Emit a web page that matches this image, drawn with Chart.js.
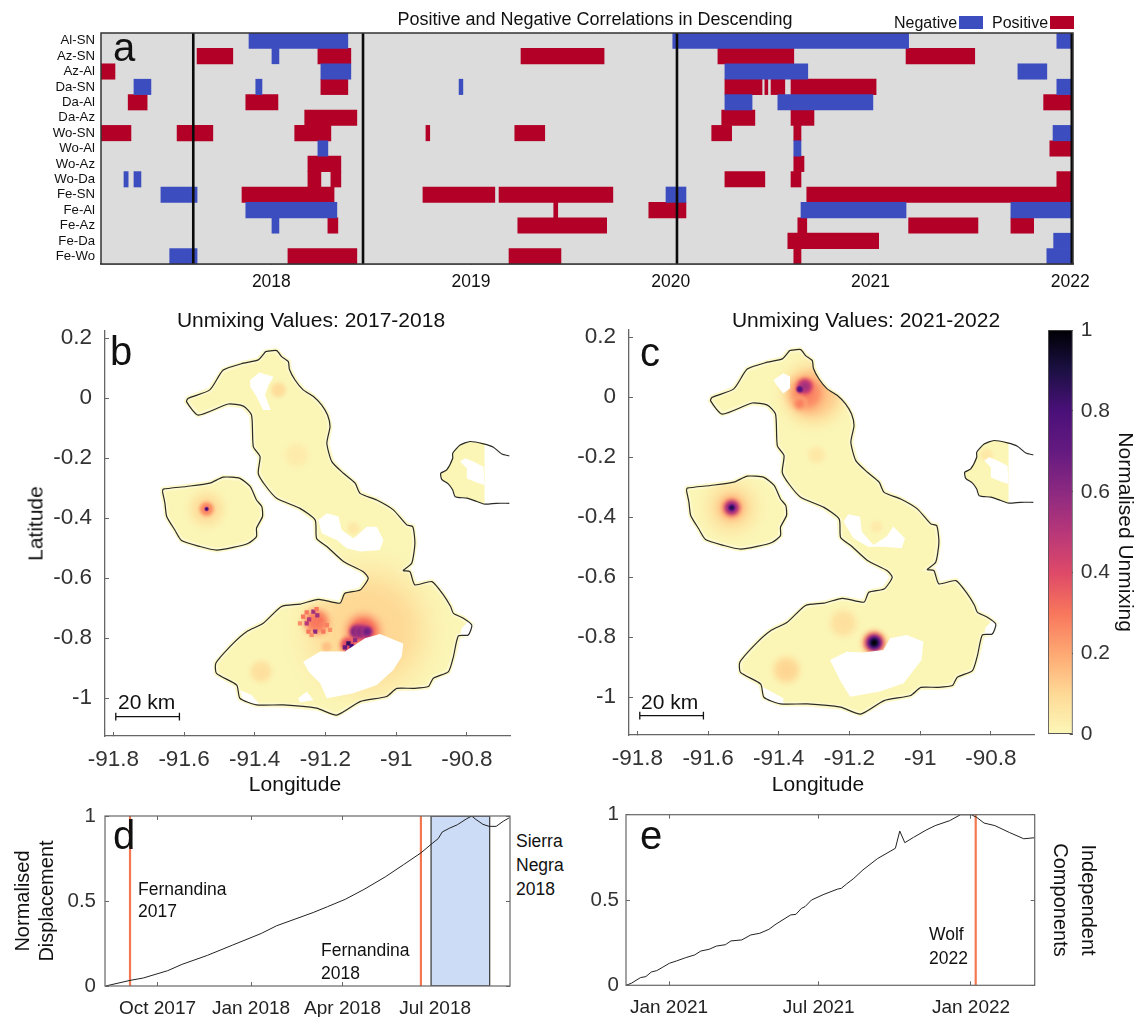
<!DOCTYPE html>
<html>
<head>
<meta charset="utf-8">
<title>Positive and Negative Correlations</title>
<script src="https://cdn.jsdelivr.net/npm/chart.js@4/dist/chart.umd.js"></script>
<style>
  html, body { margin: 0; background: #fff; }
  body { position: relative; width: 1137px; height: 1017px; overflow: hidden; font-family: "Liberation Sans", sans-serif; }
  canvas { position: absolute; }
  .t { position: absolute; line-height: 1; white-space: nowrap; color: #111; }
  .key { position: absolute; }
</style>
</head>
<body>
<script>
/* ===== PANEL A DATA: [pair, start year, end year] ===== */
const pairNames = ["Al-SN", "Az-SN", "Az-Al", "Da-SN", "Da-Al", "Da-Az", "Wo-SN", "Wo-Al", "Wo-Az", "Wo-Da", "Fe-SN", "Fe-Al", "Fe-Az", "Fe-Da", "Fe-Wo"];
const yearTicks = [2018, 2019, 2020, 2021, 2022];
const eventYears = [2017.609, 2018.459, 2020.031, 2022.008];

const negativeBars = [
  ["Al-SN", 2017.888, 2018.383], ["Al-SN", 2020.010, 2021.191], ["Al-SN", 2021.933, 2022.014],
  ["Az-SN", 2018.003, 2018.038],
  ["Az-Al", 2018.248, 2018.398], ["Az-Al", 2020.271, 2020.686], ["Az-Al", 2021.738, 2021.883],
  ["Da-SN", 2017.312, 2017.397], ["Da-SN", 2017.922, 2017.953], ["Da-SN", 2018.940, 2018.959], ["Da-SN", 2021.933, 2022.014],
  ["Da-Al", 2020.271, 2020.407], ["Da-Al", 2020.536, 2021.012],
  ["Wo-SN", 2021.914, 2022.014],
  ["Wo-Al", 2018.233, 2018.283], ["Wo-Al", 2020.616, 2020.652],
  ["Wo-Da", 2017.262, 2017.283], ["Wo-Da", 2017.312, 2017.347],
  ["Fe-SN", 2017.447, 2017.628], ["Fe-SN", 2019.976, 2020.076],
  ["Fe-Al", 2017.872, 2018.328], ["Fe-Al", 2020.652, 2021.178], ["Fe-Al", 2021.703, 2022.014],
  ["Fe-Az", 2018.003, 2018.038],
  ["Fe-Da", 2021.917, 2022.014],
  ["Fe-Wo", 2017.491, 2017.628], ["Fe-Wo", 2021.883, 2022.014]
];

const positiveBars = [
  ["Az-SN", 2017.628, 2017.807], ["Az-SN", 2018.233, 2018.398], ["Az-SN", 2019.250, 2019.666], ["Az-SN", 2020.236, 2020.616], ["Az-SN", 2021.178, 2021.522],
  ["Az-Al", 2017.147, 2017.217],
  ["Da-SN", 2018.248, 2018.383], ["Da-SN", 2020.271, 2020.457], ["Da-SN", 2020.471, 2020.486], ["Da-SN", 2020.502, 2020.571], ["Da-SN", 2020.602, 2021.028],
  ["Da-Al", 2017.283, 2017.378], ["Da-Al", 2017.872, 2018.033], ["Da-Al", 2021.867, 2022.014],
  ["Da-Az", 2018.167, 2018.428], ["Da-Az", 2020.255, 2020.421], ["Da-Az", 2020.602, 2020.717],
  ["Wo-SN", 2017.147, 2017.297], ["Wo-SN", 2017.528, 2017.707], ["Wo-SN", 2018.117, 2018.298], ["Wo-SN", 2018.774, 2018.793], ["Wo-SN", 2019.219, 2019.369], ["Wo-SN", 2020.205, 2020.305], ["Wo-SN", 2020.616, 2020.652],
  ["Wo-Al", 2021.898, 2022.014],
  ["Wo-Az", 2018.183, 2018.348], ["Wo-Az", 2020.616, 2020.667],
  ["Wo-Da", 2018.183, 2018.248], ["Wo-Da", 2018.298, 2018.348], ["Wo-Da", 2020.271, 2020.471], ["Wo-Da", 2020.602, 2020.652], ["Wo-Da", 2021.933, 2022.014],
  ["Fe-SN", 2017.853, 2018.314], ["Fe-SN", 2018.759, 2019.119], ["Fe-SN", 2019.140, 2019.710], ["Fe-SN", 2020.681, 2022.014],
  ["Fe-Al", 2019.414, 2019.434], ["Fe-Al", 2019.890, 2020.076],
  ["Fe-Az", 2018.283, 2018.333], ["Fe-Az", 2019.234, 2019.679], ["Fe-Az", 2020.636, 2020.681], ["Fe-Az", 2021.191, 2021.538], ["Fe-Az", 2021.703, 2021.817],
  ["Fe-Da", 2020.586, 2021.041],
  ["Fe-Wo", 2018.083, 2018.428], ["Fe-Wo", 2019.190, 2019.450], ["Fe-Wo", 2020.616, 2020.652]
];

/* ===== MAP DATA ===== */
const lonTicks = [-91.8, -91.6, -91.4, -91.2, -91, -90.8];
const latTicks = [0.2, 0, -0.2, -0.4, -0.6, -0.8, -1];
const unmixTicks = [0, 0.2, 0.4, 0.6, 0.8, 1];

const isabelaLon = [-91.369, -91.338, -91.324, -91.305, -91.302, -91.286, -91.263, -91.234, -91.211, -91.194, -91.187, -91.196, -91.182, -91.149, -91.116, -91.102, -91.055, -91.008, -90.970, -90.953, -90.947, -90.956, -90.980, -90.961, -90.947, -90.899, -90.866, -90.846, -90.838, -90.810, -90.786, -90.796, -90.824, -90.838, -90.852, -90.895, -90.909, -90.951, -90.998, -91.027, -91.102, -91.168, -91.225, -91.319, -91.395, -91.442, -91.451, -91.508, -91.510, -91.461, -91.423, -91.376, -91.324, -91.272, -91.220, -91.159, -91.145, -91.102, -91.079, -91.093, -91.149, -91.196, -91.225, -91.229, -91.272, -91.338, -91.371, -91.390, -91.385, -91.404, -91.409, -91.432, -91.475, -91.560, -91.593, -91.588, -91.527, -91.489, -91.432, -91.390, -91.369];
const isabelaLat = [0.156, 0.159, 0.139, 0.122, 0.097, 0.061, 0.028, 0.006, -0.022, -0.056, -0.094, -0.150, -0.211, -0.250, -0.283, -0.317, -0.339, -0.372, -0.422, -0.428, -0.483, -0.550, -0.574, -0.578, -0.622, -0.611, -0.656, -0.694, -0.717, -0.733, -0.756, -0.789, -0.792, -0.861, -0.911, -0.933, -0.961, -0.967, -0.967, -0.994, -1.011, -1.056, -1.033, -1.022, -1.022, -1.000, -0.956, -0.917, -0.883, -0.817, -0.778, -0.750, -0.694, -0.686, -0.670, -0.683, -0.650, -0.639, -0.600, -0.578, -0.544, -0.494, -0.467, -0.406, -0.367, -0.333, -0.289, -0.250, -0.194, -0.161, -0.056, -0.026, -0.019, -0.056, -0.011, 0, 0.028, 0.094, 0.117, 0.128, 0.156];

const fernandinaLon = [-91.661, -91.659, -91.593, -91.527, -91.489, -91.442, -91.413, -91.395, -91.380, -91.378, -91.395, -91.395, -91.418, -91.461, -91.508, -91.555, -91.607, -91.626, -91.649, -91.654, -91.661];
const fernandinaLat = [-0.311, -0.303, -0.294, -0.283, -0.263, -0.267, -0.294, -0.339, -0.361, -0.394, -0.433, -0.461, -0.483, -0.497, -0.506, -0.494, -0.474, -0.439, -0.394, -0.350, -0.311];

const eastCoastLon = [-90.680, -90.701, -90.725, -90.753, -90.791, -90.819, -90.840, -90.840, -90.857, -90.874, -90.871, -90.852, -90.840, -90.833, -90.800, -90.772, -90.749, -90.716, -90.680];
const eastCoastLat = [-0.192, -0.186, -0.163, -0.152, -0.144, -0.156, -0.183, -0.200, -0.239, -0.250, -0.270, -0.286, -0.306, -0.328, -0.333, -0.344, -0.353, -0.350, -0.350];
const eastLandLon = [-90.750, -90.791, -90.819, -90.840, -90.840, -90.857, -90.874, -90.871, -90.852, -90.840, -90.833, -90.800, -90.772, -90.750, -90.750];
const eastLandLat = [-0.149, -0.144, -0.156, -0.183, -0.200, -0.239, -0.250, -0.270, -0.286, -0.306, -0.328, -0.333, -0.344, -0.353, -0.149];
const eastGapLon = [-90.819, -90.805, -90.782, -90.753, -90.750, -90.772, -90.800, -90.800];
const eastGapLat = [-0.211, -0.200, -0.211, -0.228, -0.289, -0.281, -0.267, -0.233];

// no-data holes in the unmixing rasters
const gaps2018 = [
  [[-91.413, -91.387, -91.347, -91.361, -91.371, -91.355, -91.376, -91.395, -91.413], [0.061, 0.086, 0.072, 0.044, 0.011, -0.039, -0.039, 0.006, 0.039]],
  [[-91.220, -91.196, -91.163, -91.154, -91.121, -91.083, -91.055, -91.036, -91.046, -91.102, -91.140, -91.168, -91.211], [-0.406, -0.383, -0.394, -0.439, -0.467, -0.428, -0.428, -0.472, -0.506, -0.511, -0.500, -0.472, -0.450]],
  [[-91.263, -91.215, -91.145, -91.088, -91.046, -90.980, -90.984, -91.008, -91.055, -91.121, -91.196, -91.215, -91.248], [-0.878, -0.844, -0.844, -0.800, -0.786, -0.817, -0.861, -0.906, -0.956, -0.983, -1.000, -0.950, -0.911]],
  [[-91.442, -91.409, -91.385, -91.432], [-0.972, -0.989, -1.022, -1.008]],
  [[-90.819, -90.815, -90.796, -90.780, -90.791], [-0.792, -0.767, -0.744, -0.756, -0.797]],
  [[-91.277, -91.253, -91.234, -91.272], [-1.000, -0.978, -1.006, -1.014]]
];
const gaps2022 = [
  [[-91.415, -91.387, -91.368, -91.368, -91.387, -91.406], [0.058, 0.080, 0.069, 0.030, 0.013, 0.041]],
  [[-91.217, -91.203, -91.170, -91.165, -91.132, -91.095, -91.076, -91.043, -91.052, -91.104, -91.147, -91.189], [-0.414, -0.390, -0.398, -0.448, -0.492, -0.464, -0.431, -0.470, -0.503, -0.498, -0.498, -0.470]],
  [[-91.255, -91.208, -91.161, -91.104, -91.085, -91.038, -90.991, -90.996, -91.047, -91.114, -91.198, -91.227], [-0.876, -0.848, -0.851, -0.842, -0.803, -0.792, -0.814, -0.876, -0.953, -0.981, -0.998, -0.942]],
  [[-91.448, -91.387, -91.387, -91.434], [-0.964, -1.003, -1.026, -1.009]],
  [[-90.819, -90.815, -90.796, -90.780, -90.791], [-0.792, -0.767, -0.744, -0.756, -0.797]]
];

// unmixing hot spots: centre, peak value, spread in degrees (drawn low to high)
const blobLon2018 = [-91.083, -91.333, -91.281, -91.121, -91.382, -91.536, -91.536, -91.225, -91.196, -91.093, -91.135, -91.112, -91.097, -91.083, -91.138, -91.536];
const blobLat2018 = [-0.772, 0.028, -0.189, -0.433, -0.911, -0.369, -0.369, -0.745, -0.828, -0.778, -0.822, -0.778, -0.778, -0.778, -0.867, -0.369];
const blobPeak2018 = [0.11, 0.09, 0.04, 0.05, 0.08, 0.08, 0.28, 0.3, 0.15, 0.36, 0.42, 0.7, 0.68, 0.68, 0.32, 0.85];
const blobSpread2018 = [0.255, 0.033, 0.052, 0.028, 0.047, 0.075, 0.032, 0.055, 0.026, 0.071, 0.036, 0.03, 0.03, 0.026, 0.011, 0.009];

const blobLon2022 = [-91.302, -91.321, -91.340, -91.326, -91.340, -91.533, -91.533, -91.533, -91.533, -91.217, -91.378, -91.293, -91.123, -90.812, -91.130, -91.130, -91.130];
const blobLat2022 = [0.013, 0.013, -0.020, 0.036, 0.027, -0.368, -0.368, -0.368, -0.368, -0.753, -0.909, -0.192, -0.431, -0.192, -0.818, -0.818, -0.818];
const blobPeak2022 = [0.14, 0.28, 0.28, 0.55, 0.78, 0.08, 0.2, 0.6, 0.9, 0.08, 0.11, 0.05, 0.04, 0.05, 0.3, 0.72, 1];
const blobSpread2022 = [0.125, 0.075, 0.028, 0.035, 0.016, 0.113, 0.06, 0.034, 0.016, 0.057, 0.057, 0.038, 0.028, 0.028, 0.05, 0.037, 0.026];

// speckled raster cells around the 2018 calderas
const cellLon2018 = [-91.234, -91.223, -91.246, -91.253, -91.229, -91.263, -91.215, -91.196, -91.187, -91.206, -91.248, -91.272, -91.225, -91.253, -91.239, -91.135, -91.126, -91.145, -91.138, -91.116];
const cellLat2018 = [-0.711, -0.724, -0.737, -0.750, -0.778, -0.728, -0.739, -0.756, -0.772, -0.778, -0.778, -0.750, -0.703, -0.714, -0.789, -0.817, -0.826, -0.830, -0.848, -0.806];
const cellValue2018 = [0.55, 0.55, 0.5, 0.5, 0.6, 0.3, 0.3, 0.28, 0.25, 0.3, 0.3, 0.25, 0.3, 0.3, 0.25, 0.85, 0.8, 0.7, 0.8, 0.6];

// scale bar ends in degrees, 20 km
const scaleBarLon = [-91.793, -91.613];
const scaleBarLat = -1.061;

// colour bar readings
const cmapLevels = [0, 0.1, 0.2, 0.3, 0.4, 0.5, 0.6, 0.7, 0.8, 0.9, 1];
const cmapColors = [[252, 247, 184], [254, 217, 150], [254, 168, 115], [248, 118, 92], [222, 73, 104], [183, 55, 121], [140, 41, 129], [100, 26, 128], [74, 16, 121], [28, 16, 68], [0, 0, 4]];

/* ===== PANEL D / E DATA: days from the first tick date ===== */
const dTickDays = [0, 92, 182, 273];
const dTickLabels = ["Oct 2017", "Jan 2018", "Apr 2018", "Jul 2018"];
const dDays = [-51, -27, -14, 10, 24, 49, 74, 102, 117, 153, 167, 185, 203, 224, 242, 259, 270, 276, 280, 287, 295, 304, 309, 313, 320, 326, 333, 340, 346];
const dValues = [0, 0.033, 0.047, 0.09, 0.127, 0.18, 0.241, 0.309, 0.354, 0.432, 0.466, 0.511, 0.568, 0.642, 0.714, 0.783, 0.838, 0.867, 0.906, 0.928, 0.949, 0.984, 1, 0.98, 0.951, 0.939, 0.939, 0.969, 0.99];
const dEvents = [-27, 259];
const dBandDays = [269, 326.6];

const eTickDays = [0, 181, 365];
const eTickLabels = ["Jan 2021", "Jul 2021", "Jan 2022"];
const eDays = [-52, -45.5, -34.5, -28, -21.4, -14.9, -8.3, 0.4, 9.2, 20.1, 31, 38.5, 48.5, 57.3, 68.2, 74.8, 87.9, 98.8, 109.7, 120.7, 129.4, 146.9, 153.4, 160, 164.4, 172.2, 186.2, 203.7, 208.1, 214.6, 223.4, 234.3, 251.8, 273.6, 278.9, 285, 295.5, 310.8, 321.7, 339.2, 352.3, 365.4, 372, 380.8, 393.9, 411.3, 428.8, 441.9];
const eValues = [0, 0.012, 0.045, 0.051, 0.078, 0.086, 0.104, 0.129, 0.143, 0.162, 0.178, 0.201, 0.211, 0.23, 0.238, 0.26, 0.266, 0.295, 0.305, 0.328, 0.359, 0.412, 0.416, 0.451, 0.461, 0.5, 0.531, 0.564, 0.568, 0.594, 0.627, 0.676, 0.742, 0.803, 0.904, 0.836, 0.867, 0.91, 0.936, 0.965, 1, 1, 0.984, 0.951, 0.936, 0.896, 0.859, 0.865];
const eEvents = [370.7];

const unitTicks = [0, 0.5, 1];

/* ===== HELPERS ===== */
const FONT = '"Liberation Sans", sans-serif';

// fixed axis sizes, and no extra room for labels that stick out
function noPadding(s) {
  s.paddingTop = 0;
  s.paddingBottom = 0;
  s.paddingLeft = 0;
  s.paddingRight = 0;
}
const fixW = w => s => { s.width = w; noPadding(s); };
const fixH = h => s => { s.height = h; noPadding(s); };
const setTicks = values => s => { s.ticks = values.map(v => ({ value: v })); };
const zip = (xs, ys) => xs.map((x, i) => ({ x, y: ys[i] }));

function addCanvas(left, top, width, height) {
  const c = document.createElement("canvas");
  c.width = width;
  c.height = height;
  c.style.left = left + "px";
  c.style.top = top + "px";
  c.style.width = width + "px";
  c.style.height = height + "px";
  document.body.appendChild(c);
  return c;
}

function addText(text, x, y, size, align) {
  const d = document.createElement("div");
  d.className = "t";
  d.textContent = text;
  d.style.left = x + "px";
  d.style.top = (y - size / 2) + "px";
  d.style.fontSize = size + "px";
  if (align === "center") d.style.transform = "translateX(-50%)";
  if (align === "rotated") d.style.transform = "translateX(-50%) rotate(-90deg)";
  document.body.appendChild(d);
}

function addKey(color, x, y, w, h) {
  const d = document.createElement("div");
  d.className = "key";
  d.style.cssText = `left:${x}px;top:${y}px;width:${w}px;height:${h}px;background:${color}`;
  document.body.appendChild(d);
}

function cmap(v, alpha) {
  let i = 0;
  while (i < cmapLevels.length - 2 && v > cmapLevels[i + 1]) i++;
  const f = Math.min(1, (v - cmapLevels[i]) / (cmapLevels[i + 1] - cmapLevels[i]));
  const c = cmapColors[i].map((a, k) => Math.round(a + (cmapColors[i + 1][k] - a) * f));
  return `rgba(${c[0]},${c[1]},${c[2]},${alpha === undefined ? 1 : alpha})`;
}

// grey plot background and box round the plot
const plotFrame = {
  id: "plotFrame",
  beforeDatasetsDraw(chart, args, opts) {
    const a = chart.chartArea;
    if (opts.background) {
      chart.ctx.fillStyle = opts.background;
      chart.ctx.fillRect(a.left, a.top, a.width, a.height);
    }
  },
  afterDatasetsDraw(chart, args, opts) {
    const a = chart.chartArea;
    if (opts.color) {
      chart.ctx.strokeStyle = opts.color;
      chart.ctx.lineWidth = opts.width || 1;
      chart.ctx.strokeRect(a.left, a.top, a.width, a.height);
    }
  }
};

// keeps the hot spots inside the land polygons
const landClip = {
  id: "landClip",
  beforeDatasetDraw(chart, args) {
    if (!chart.data.datasets[args.index].clipToLand) return;
    const { x, y } = chart.scales;
    const ctx = chart.ctx;
    ctx.save();
    ctx.beginPath();
    [[isabelaLon, isabelaLat], [fernandinaLon, fernandinaLat], [eastLandLon, eastLandLat]].forEach(([lon, lat]) => {
      lon.forEach((v, i) => {
        const px = x.getPixelForValue(v), py = y.getPixelForValue(lat[i]);
        if (i === 0) ctx.moveTo(px, py); else ctx.lineTo(px, py);
      });
      ctx.closePath();
    });
    ctx.clip();
  },
  afterDatasetDraw(chart, args) {
    if (chart.data.datasets[args.index].clipToLand) chart.ctx.restore();
  }
};

const baseOptions = {
  responsive: false,
  animation: false,
  events: [],
  layout: { autoPadding: false }
};
const noPlugins = { legend: { display: false }, tooltip: { enabled: false }, title: { display: false } };

/* ===== PANEL A ===== */
function barData(list) {
  return list.map(b => ({ y: b[0], x: [b[1], b[2]] }));
}

new Chart(addCanvas(40, 25, 1060, 265), {
  type: "bar",
  data: {
    labels: pairNames,
    datasets: [
      ...eventYears.map(year => ({
        type: "scatter",
        indexAxis: "x",
        xAxisID: "x",
        yAxisID: "yLine",
        showLine: true,
        data: [{ x: year, y: 0 }, { x: year, y: 1 }],
        borderColor: "#0a0a0a",
        borderWidth: 2.6,
        pointRadius: 0,
        order: 0
      })),
      { label: "Negative", data: barData(negativeBars), backgroundColor: "#3c4dc0", grouped: false, barPercentage: 1, categoryPercentage: 1, order: 1 },
      { label: "Positive", data: barData(positiveBars), backgroundColor: "#b30027", grouped: false, barPercentage: 1, categoryPercentage: 1, order: 1 }
    ]
  },
  options: {
    ...baseOptions,
    indexAxis: "y",
    layout: { autoPadding: false, padding: { top: 8, right: 27 } },
    plugins: { ...noPlugins, plotFrame: { background: "#dcdcdc", color: "#333", width: 1.5 } },
    scales: {
      x: {
        type: "linear",
        min: 2017.147,
        max: 2022.014,
        afterBuildTicks: setTicks(yearTicks),
        afterFit: fixH(26),
        border: { color: "#333", width: 1.5 },
        grid: { drawOnChartArea: false, tickLength: -3, color: "#333" },
        ticks: { autoSkip: false, maxRotation: 0, padding: 11, color: "#111", font: { family: FONT, size: 17.5 }, callback: v => String(v) }
      },
      y: {
        type: "category",
        afterFit: fixW(61),
        border: { display: false },
        grid: { display: false, drawTicks: false },
        ticks: { autoSkip: false, padding: 6, color: "#111", font: { family: FONT, size: 13.2 } }
      },
      yLine: { type: "linear", axis: "y", display: false, offset: false, min: 0, max: 1 }
    }
  },
  plugins: [plotFrame]
});

/* ===== MAP PANELS B, C ===== */
function polygon(lon, lat, fillColor, edgeColor, edgeWidth) {
  return {
    data: zip(lon, lat),
    showLine: true,
    fill: "shape",
    backgroundColor: fillColor,
    borderColor: edgeColor,
    borderWidth: edgeWidth,
    pointRadius: 0
  };
}

function coast(lon, lat) {
  return { data: zip(lon, lat), showLine: true, fill: false, borderColor: "#2b2b26", borderWidth: 1.2, pointRadius: 0, tension: 0.2 };
}

function blobLayer(lon, lat, peak, spread) {
  return {
    clipToLand: true,
    data: zip(lon, lat),
    showLine: false,
    pointBorderWidth: 0,
    pointRadius: ctx => {
      const i = ctx.dataIndex;
      if (i === undefined) return 0;
      const sx = ctx.chart.scales.x;
      const r = sx.getPixelForValue(lon[i] + spread[i]) - sx.getPixelForValue(lon[i]);
      return Number.isFinite(r) ? r : 0;
    },
    pointBackgroundColor: ctx => {
      const i = ctx.dataIndex;
      if (i === undefined) return "rgba(0,0,0,0)";
      const sx = ctx.chart.scales.x, sy = ctx.chart.scales.y;
      const px = sx.getPixelForValue(lon[i]), py = sy.getPixelForValue(lat[i]);
      const r = sx.getPixelForValue(lon[i] + spread[i]) - px;
      // the scales have no size yet on the first pass
      if (!Number.isFinite(px + py + r)) return "rgba(0,0,0,0)";
      const g = ctx.chart.ctx.createRadialGradient(px, py, 0, px, py, Math.max(r, 1));
      for (let k = 0; k <= 10; k++) {
        const t = k / 10;
        const f = (1 - t * t) * (1 - t * t);
        // fades to see-through, not to pale yellow, so no light ring over a halo
        g.addColorStop(t, cmap(peak[i] * (0.6 + 0.4 * f), Math.min(1, f * 1.6)));
      }
      return g;
    }
  };
}

function mapChart(left, top, cfg) {
  const W = 495, H = 473;
  const base = "#fbf6b6", fringe = "#fdf9cd";
  const capLat = 0.013;
  const layers = [
    polygon(isabelaLon, isabelaLat, base, fringe, 5),
    polygon(fernandinaLon, fernandinaLat, base, fringe, 5),
    polygon(eastLandLon, eastLandLat, base, base, 0),
    blobLayer(cfg.blobLon, cfg.blobLat, cfg.blobPeak, cfg.blobSpread),
    ...(cfg.cellLon ? [{
      clipToLand: true,
      data: zip(cfg.cellLon, cfg.cellLat),
      showLine: false,
      pointStyle: "rect",
      pointRadius: 3,
      pointBorderWidth: 0,
      pointBackgroundColor: ctx => (ctx.dataIndex === undefined ? "rgba(0,0,0,0)" : cmap(cfg.cellValue[ctx.dataIndex]))
    }] : []),
    ...cfg.gaps.map(g => polygon(g[0], g[1], "#fff", "#fff", 0)),
    polygon(eastGapLon, eastGapLat, "#fff", "#fff", 0),
    coast(isabelaLon, isabelaLat),
    coast(fernandinaLon, fernandinaLat),
    coast(eastCoastLon, eastCoastLat),
    {
      data: [
        { x: scaleBarLon[0], y: scaleBarLat + capLat }, { x: scaleBarLon[0], y: scaleBarLat - capLat }, { x: scaleBarLon[0], y: scaleBarLat },
        { x: scaleBarLon[1], y: scaleBarLat }, { x: scaleBarLon[1], y: scaleBarLat + capLat }, { x: scaleBarLon[1], y: scaleBarLat - capLat }
      ],
      showLine: true,
      fill: false,
      borderColor: "#111",
      borderWidth: 1.3,
      pointRadius: 0
    }
  ];
  // the later entries go on top, chart.js draws high order first
  layers.forEach((d, i) => { d.order = layers.length - i; });

  new Chart(addCanvas(left, top, W, H), {
    type: "scatter",
    data: { datasets: layers },
    options: {
      ...baseOptions,
      layout: { autoPadding: false, padding: { top: 6, right: 5 } },
      plugins: noPlugins,
      scales: {
        x: {
          type: "linear",
          min: -91.8235,
          max: -90.678,
          afterBuildTicks: setTicks(lonTicks),
          afterFit: fixH(H - 411),
          border: { color: "#666", width: 1.3 },
          grid: { drawOnChartArea: false, tickLength: -4, color: "#666" },
          ticks: { autoSkip: false, maxRotation: 0, padding: 14, color: "#333", font: { family: FONT, size: 22.5 }, callback: v => String(v) }
        },
        y: {
          type: "linear",
          min: -1.1257,
          max: 0.2243,
          afterBuildTicks: setTicks(latTicks),
          afterFit: fixW(85),
          border: { color: "#666", width: 1.3 },
          grid: { drawOnChartArea: false, tickLength: -4, color: "#666" },
          ticks: { autoSkip: false, padding: 17, color: "#333", font: { family: FONT, size: 22.5 }, callback: v => String(v) }
        }
      }
    },
    plugins: [landClip]
  });
}

mapChart(20, 325, { blobLon: blobLon2018, blobLat: blobLat2018, blobPeak: blobPeak2018, blobSpread: blobSpread2018, cellLon: cellLon2018, cellLat: cellLat2018, cellValue: cellValue2018, gaps: gaps2018 });
mapChart(543.5, 324, { blobLon: blobLon2022, blobLat: blobLat2022, blobPeak: blobPeak2022, blobSpread: blobSpread2022, gaps: gaps2022 });

/* ===== COLOUR BAR ===== */
new Chart(addCanvas(1040, 322, 97, 425), {
  type: "bar",
  data: {
    labels: ["unmixing"],
    datasets: [{
      data: [[0, 1]],
      barPercentage: 1,
      categoryPercentage: 1,
      borderWidth: 1.2,
      borderColor: "#555",
      borderSkipped: false,
      backgroundColor: ctx => {
        const y = ctx.chart.scales.y;
        const p0 = y.getPixelForValue(0), p1 = y.getPixelForValue(1);
        if (!Number.isFinite(p0 + p1)) return "#fff";
        const g = ctx.chart.ctx.createLinearGradient(0, p0, 0, p1);
        cmapLevels.forEach(v => g.addColorStop(v, cmap(v)));
        return g;
      }
    }]
  },
  options: {
    ...baseOptions,
    layout: { autoPadding: false, padding: { top: 8, left: 8 } },
    plugins: noPlugins,
    scales: {
      x: { afterFit: fixH(12.7), border: { display: false }, grid: { display: false }, ticks: { display: false } },
      y: {
        position: "right",
        min: 0,
        max: 1,
        afterBuildTicks: setTicks(unmixTicks),
        afterFit: fixW(64.3),
        title: { display: true, text: "Normalised Unmixing", color: "#111", padding: 0, font: { family: FONT, size: 21 } },
        border: { display: false },
        grid: { drawOnChartArea: false, tickLength: -3, color: "#555" },
        ticks: { autoSkip: false, padding: 11, color: "#333", font: { family: FONT, size: 21 }, callback: v => String(v) }
      }
    }
  }
});

/* ===== PANELS D, E ===== */
function vLine(day) {
  return { data: [{ x: day, y: 0 }, { x: day, y: 1 }], showLine: true, borderColor: "#f4784f", borderWidth: 2.2, pointRadius: 0 };
}

function timeChart(box, cfg) {
  const layers = [
    ...(cfg.band ? [{
      data: [{ x: cfg.band[0], y: 0 }, { x: cfg.band[0], y: 1 }, { x: cfg.band[1], y: 1 }, { x: cfg.band[1], y: 0 }, { x: cfg.band[0], y: 0 }],
      showLine: true,
      fill: "shape",
      backgroundColor: "#ccdcf6",
      borderColor: "#444",
      borderWidth: 1.3,
      pointRadius: 0
    }] : []),
    ...cfg.events.map(vLine),
    { data: zip(cfg.days, cfg.values), showLine: true, borderColor: "#222", borderWidth: 1, pointRadius: 0 }
  ];
  layers.forEach((d, i) => { d.order = layers.length - i; });

  const markTick = { drawOnChartArea: false, tickLength: -4, color: "#666" };
  new Chart(addCanvas(box.left, box.top, box.width, box.height), {
    type: "scatter",
    data: { datasets: layers },
    options: {
      ...baseOptions,
      layout: { autoPadding: false, padding: { top: box.plotTop, right: box.padRight } },
      plugins: { ...noPlugins, plotFrame: { color: "#666", width: 1.2 } },
      scales: {
        x: {
          type: "linear",
          min: cfg.min,
          max: cfg.max,
          afterBuildTicks: setTicks(cfg.tickDays),
          afterFit: fixH(box.xHeight),
          border: { display: false },
          grid: markTick,
          ticks: { autoSkip: false, maxRotation: 0, padding: 15, color: "#222", font: { family: FONT, size: 19 }, callback: (v, i) => cfg.tickLabels[i] }
        },
        xTop: {
          type: "linear",
          axis: "x",
          position: "top",
          min: cfg.min,
          max: cfg.max,
          afterBuildTicks: setTicks(cfg.tickDays),
          afterFit: fixH(0),
          border: { display: false },
          grid: markTick,
          ticks: { display: false }
        },
        y: {
          type: "linear",
          min: 0,
          max: 1,
          afterBuildTicks: setTicks(unitTicks),
          afterFit: fixW(box.yWidth),
          title: cfg.leftTitle ? { display: true, text: cfg.leftTitle, color: "#111", font: { family: FONT, size: 20, lineHeight: 1.17 } } : { display: false },
          border: { display: false },
          grid: markTick,
          ticks: { autoSkip: false, padding: cfg.yPad, color: "#333", font: { family: FONT, size: 20.5 }, callback: v => String(v) }
        },
        yRight: {
          type: "linear",
          axis: "y",
          position: "right",
          min: 0,
          max: 1,
          afterBuildTicks: setTicks(unitTicks),
          afterFit: fixW(box.rightWidth),
          title: cfg.rightTitle ? { display: true, text: cfg.rightTitle, color: "#111", font: { family: FONT, size: 20, lineHeight: 1.4 } } : { display: false },
          border: { display: false },
          grid: markTick,
          ticks: { display: false }
        }
      }
    },
    plugins: [plotFrame]
  });
}

timeChart(
  { left: 8, top: 805, width: 504, height: 212, plotTop: 11, padRight: 2, xHeight: 31, yWidth: 97, rightWidth: 0 },
  { min: -51.6, max: 346.6, tickDays: dTickDays, tickLabels: dTickLabels, days: dDays, values: dValues, events: dEvents, band: dBandDays, yPad: 13, leftTitle: ["Normalised", "Displacement"] }
);
timeChart(
  { left: 590, top: 805, width: 516, height: 212, plotTop: 9.7, padRight: 0, xHeight: 31.7, yWidth: 36, rightWidth: 71.3 },
  { min: -52, max: 442, tickDays: eTickDays, tickLabels: eTickLabels, days: eDays, values: eValues, events: eEvents, yPad: 11, rightTitle: ["Independent", "Components"] }
);

/* ===== TEXT ===== */
addText("Positive and Negative Correlations in Descending", 595, 19, 18, "center");
addText("Negative", 894, 23, 16);
addKey("#3c4dc0", 959, 16, 24, 13);
addText("Positive", 992, 23, 16);
addKey("#b30027", 1050, 16, 24, 13);

addText("Unmixing Values: 2017-2018", 311, 319, 21, "center");
addText("Unmixing Values: 2021-2022", 866, 319, 21, "center");

addText("Longitude", 295, 783, 21, "center");
addText("Longitude", 818, 783, 21, "center");
addText("Latitude", 35, 523, 21, "rotated");

addText("a", 113, 47, 40);
addText("b", 110, 351, 40);
addText("c", 640, 352, 40);
addText("d", 113, 835, 40);
addText("e", 640, 835, 40);

addText("20 km", 118, 701, 21);
addText("20 km", 641, 701, 21);

addText("Fernandina", 138, 890, 17.5);
addText("2017", 138, 912, 17.5);
addText("Fernandina", 321, 951, 17.5);
addText("2018", 321, 974, 17.5);
addText("Sierra", 516, 842, 17.5);
addText("Negra", 516, 866, 17.5);
addText("2018", 516, 890, 17.5);
addText("Wolf", 929, 935, 17.5);
addText("2022", 929, 959, 17.5);
</script>
</body>
</html>
